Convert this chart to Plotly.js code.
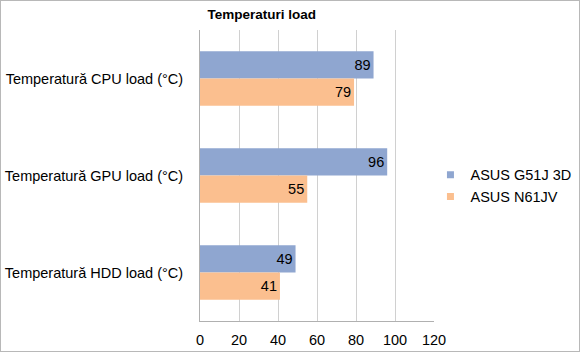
<!DOCTYPE html>
<html>
<head>
<meta charset="utf-8">
<script src="https://cdn.plot.ly/plotly-3.0.1.min.js"></script>
<style>
html,body{margin:0;padding:0;background:#fff;}
#chart{width:578px;height:350px;border:1px solid #b8b8b8;}
</style>
</head>
<body>
<div id="chart"></div>
<script>
var categories = ["Temperatură CPU load (°C)", "Temperatură GPU load (°C)", "Temperatură HDD load (°C)"];
var seriesNames = ["ASUS G51J 3D", "ASUS N61JV"];
var g51j = [89, 96, 49];
var n61jv = [79, 55, 41];
var xTicks = [0, 20, 40, 60, 80, 100, 120];

var FONT = 'Liberation Sans, Arial, sans-serif';
var colors = ["#8fa6d0", "#fbbf8f"];
var values = [g51j, n61jv];
var traces = values.map(function(v, i){
  return {
    type: 'bar', orientation: 'h',
    x: v, y: categories, name: seriesNames[i],
    marker: {color: colors[i]},
    text: v.map(String), textposition: 'inside', insidetextanchor: 'end',
    textfont: {family: FONT, size: 14.5, color: '#000'},
    constraintext: 'none', cliponaxis: false,
    showlegend: false, legendgroup: 'g' + i
  };
});
// legend entries (small square markers, like the original)
seriesNames.forEach(function(n, i){
  traces.push({
    type: 'scatter', mode: 'markers', x: [null], y: [null], name: n,
    marker: {symbol: 'square', size: 7, color: colors[i]},
    showlegend: true, legendgroup: 'g' + i
  });
});

var layout = {
  width: 578, height: 350,
  margin: {l: 199, r: 145, t: 29, b: 30, pad: 0, autoexpand: false},
  paper_bgcolor: '#fff', plot_bgcolor: '#fff',
  font: {family: FONT, size: 14.5, color: '#000'},
  title: {text: '<b>Temperaturi load</b>', xref: 'container', x: 0.451, xanchor: 'center',
          yref: 'container', y: 0.962, yanchor: 'middle',
          font: {size: 13.5, color: '#000'}},
  barmode: 'group', bargap: 0.44, bargroupgap: 0,
  xaxis: {range: [0, 120], tickvals: xTicks, ticktext: xTicks.map(String),
          showgrid: true, gridcolor: '#d0d0d0', gridwidth: 1,
          showline: true, linecolor: '#b0b0b0', linewidth: 1,
          zeroline: false, ticks: '', fixedrange: true, ticklabelstandoff: 6},
  yaxis: {autorange: 'reversed', showgrid: false, showline: true, linecolor: '#b0b0b0', linewidth: 1,
          ticks: '', ticklabelstandoff: 13, fixedrange: true},
  legend: {xref: 'container', x: 0.743, xanchor: 'left', yref: 'container', y: 0.472, yanchor: 'middle',
           orientation: 'v', font: {size: 14.5}, itemwidth: 30, tracegroupgap: 0,
           bgcolor: 'rgba(0,0,0,0)', borderwidth: 0},
  showlegend: true
};

Plotly.newPlot('chart', traces, layout, {displayModeBar: false, staticPlot: true});
</script>
</body>
</html>
